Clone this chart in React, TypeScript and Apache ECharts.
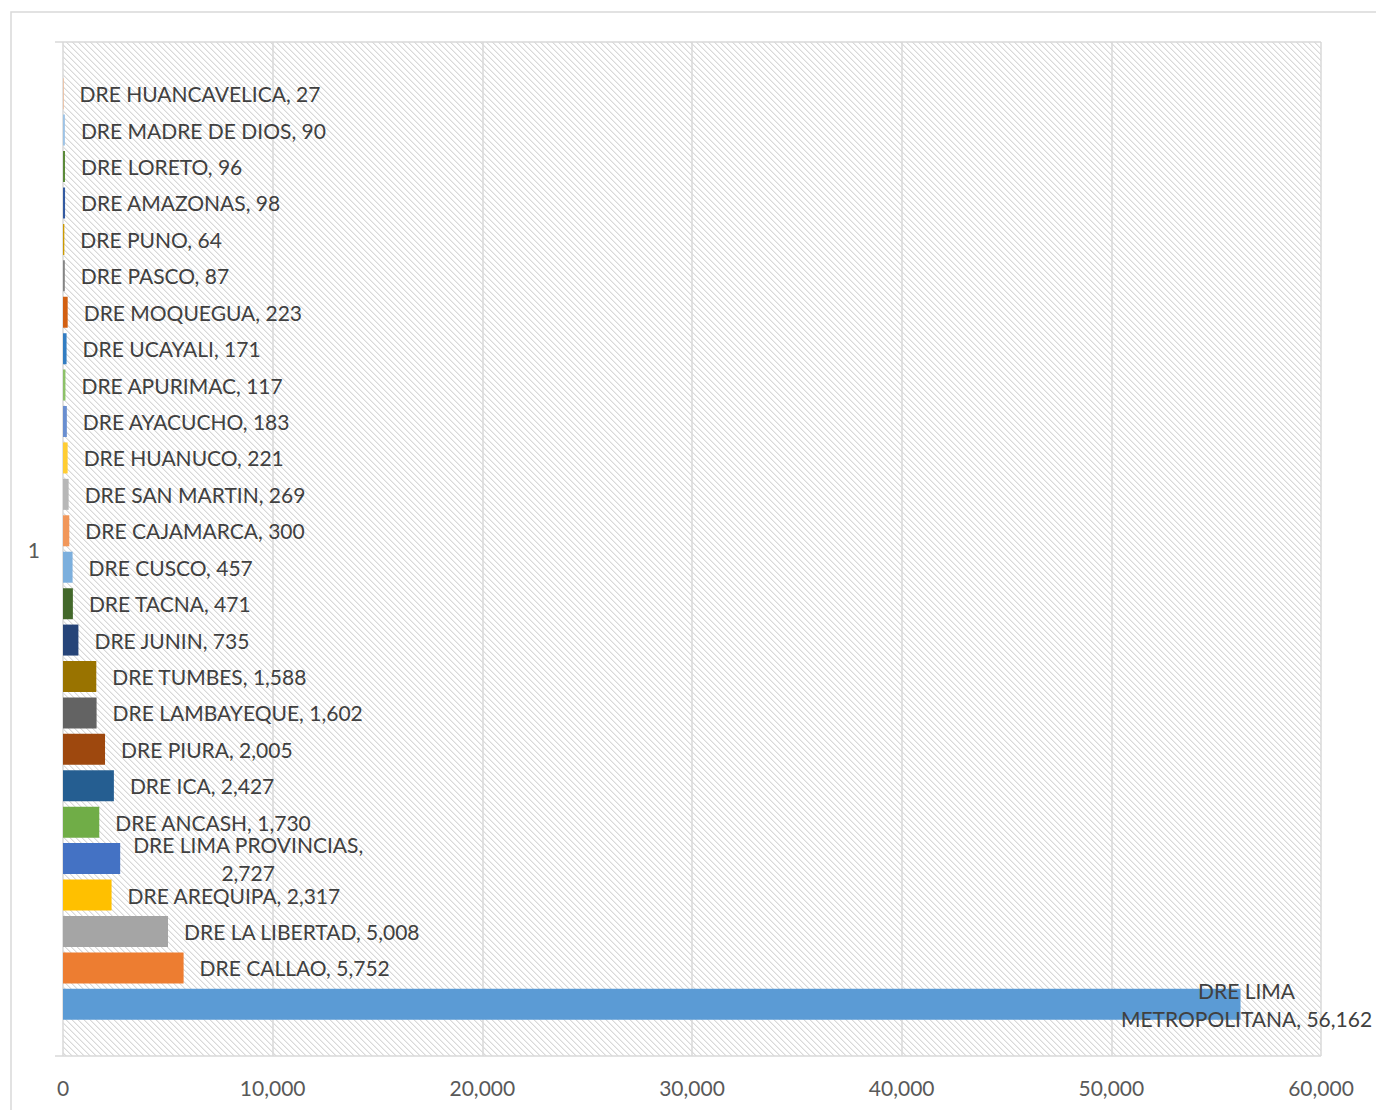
import React, { useEffect, useRef } from "react";
import * as echarts from "echarts";

// Series listed bottom-to-top, as drawn
const regions = [
  "DRE LIMA METROPOLITANA",
  "DRE CALLAO",
  "DRE LA LIBERTAD",
  "DRE AREQUIPA",
  "DRE LIMA PROVINCIAS",
  "DRE ANCASH",
  "DRE ICA",
  "DRE PIURA",
  "DRE LAMBAYEQUE",
  "DRE TUMBES",
  "DRE JUNIN",
  "DRE TACNA",
  "DRE CUSCO",
  "DRE CAJAMARCA",
  "DRE SAN MARTIN",
  "DRE HUANUCO",
  "DRE AYACUCHO",
  "DRE APURIMAC",
  "DRE UCAYALI",
  "DRE MOQUEGUA",
  "DRE PASCO",
  "DRE PUNO",
  "DRE AMAZONAS",
  "DRE LORETO",
  "DRE MADRE DE DIOS",
  "DRE HUANCAVELICA",
];

const values = [
  56162, 5752, 5008, 2317, 2727, 1730, 2427, 2005, 1602, 1588, 735, 471, 457,
  300, 269, 221, 183, 117, 171, 223, 87, 64, 98, 96, 90, 27,
];

const colors = [
  "#5B9BD5", "#ED7D31", "#A5A5A5", "#FFC000", "#4472C4", "#70AD47",
  "#255E91", "#9E480E", "#636363", "#997300", "#264478", "#43682B",
  "#7CAFDD", "#F1975A", "#B7B7B7", "#FFCD33", "#698ED0", "#8CC168",
  "#327DC2", "#D26012", "#848484", "#CC9A00", "#335AA1", "#5A8A39",
  "#9DC3E6", "#F4B183",
];

const categories = ["1"];
const xTicks = { min: 0, max: 60000, interval: 10000 };

function makeHatch() {
  const size = 6;
  const c = document.createElement("canvas");
  c.width = size;
  c.height = size;
  const ctx = c.getContext("2d")!;
  ctx.fillStyle = "#ffffff";
  ctx.fillRect(0, 0, size, size);
  for (let y = 0; y < size; y++) {
    for (let x = 0; x < size; x++) {
      const d = (x - y + size) % size;
      if (d === 0) {
        ctx.fillStyle = "#D9D9D9";
        ctx.fillRect(x, y, 1, 1);
      } else if (d === 1) {
        ctx.fillStyle = "#EDEDED";
        ctx.fillRect(x, y, 1, 1);
      }
    }
  }
  return { image: c, repeat: "repeat", imageWidth: size, imageHeight: size };
}

const FONT = "Lato";
const FS = 21;

export default function App() {
  const ref = useRef<HTMLDivElement>(null);
  useEffect(() => {
    if (!ref.current) return;
    const chart = echarts.init(ref.current, null, { renderer: "svg" });
    const fmt = (n: number) => n.toLocaleString("en-US");
    const series: any[] = [];
    // ECharts puts the first series at the top of a horizontal group,
    // so add them top-to-bottom.
    for (let i = regions.length - 1; i >= 0; i--) {
      const name = regions[i];
      let label: any = {
        show: true,
        position: "right",
        distance: 16,
        color: "#404040",
        fontFamily: FONT,
        fontSize: FS,
        formatter: (p: any) => `${p.seriesName}, ${fmt(p.value)}`,
      };
      if (name === "DRE LIMA METROPOLITANA") {
        label = {
          ...label,
          align: "center",
          distance: 6,
          lineHeight: 28,
          formatter: (p: any) => `DRE LIMA\nMETROPOLITANA, ${fmt(p.value)}`,
        };
      } else if (name === "DRE LIMA PROVINCIAS") {
        label = {
          ...label,
          align: "center",
          distance: 128,
          lineHeight: 28,
          formatter: (p: any) => `${p.seriesName},\n${fmt(p.value)}`,
        };
      }
      series.push({
        type: "bar",
        name,
        data: [values[i]],
        barWidth: 31,
        barGap: "17.5%",
        itemStyle: { color: colors[i] },
        label,
      });
    }
    chart.setOption({
      animation: false,
      backgroundColor: "#ffffff",
      graphic: [
        {
          type: "rect",
          shape: { x: 11, y: 12, width: 1400, height: 1200 },
          style: { fill: "none", stroke: "#D9D9D9", lineWidth: 1.5 },
          silent: true,
        },
      ],
      grid: {
        left: 63,
        right: 55,
        top: 42,
        bottom: 54,
        show: true,
        borderWidth: 0,
        backgroundColor: makeHatch(),
      },
      xAxis: {
        type: "value",
        min: xTicks.min,
        max: xTicks.max,
        interval: xTicks.interval,
        axisLine: { show: false },
        axisTick: { show: false },
        splitLine: { show: true, lineStyle: { color: "#D9D9D9", width: 1.5 } },
        axisLabel: {
          color: "#595959",
          fontFamily: FONT,
          fontSize: FS,
          margin: 21,
          formatter: (v: number) => v.toLocaleString("en-US"),
        },
      },
      yAxis: {
        type: "category",
        data: categories,
        axisLine: { show: false },
        axisTick: {
          show: true,
          length: 8,
          lineStyle: { color: "#D9D9D9", width: 1.5 },
        },
        splitLine: { show: true, lineStyle: { color: "#D9D9D9", width: 1.5 } },
        axisLabel: {
          color: "#595959",
          fontFamily: FONT,
          fontSize: FS,
          margin: 23,
        },
      },
      series,
    });
    return () => chart.dispose();
  }, []);
  return (
    <div
      ref={ref}
      style={{ position: "absolute", left: 0, top: 0, width: 1376, height: 1110 }}
    />
  );
}
